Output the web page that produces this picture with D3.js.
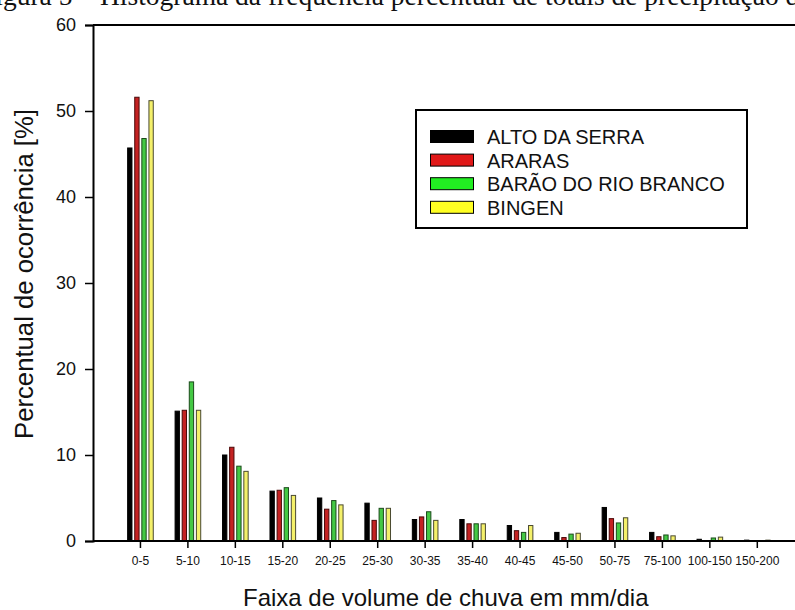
<!DOCTYPE html>
<html>
<head>
<meta charset="utf-8">
<script src="https://cdn.jsdelivr.net/npm/d3@7"></script>
<style>
  html, body { margin: 0; padding: 0; background: #fff; }
  svg { display: block; }
  text { font-family: "Liberation Sans", Arial, sans-serif; fill: #111; }
</style>
</head>
<body>
<svg id="chart" width="795" height="610"></svg>
<script>
const categories = ["0-5","5-10","10-15","15-20","20-25","25-30","30-35","35-40","40-45","45-50","50-75","75-100","100-150","150-200"];
const seriesNames = ["ALTO DA SERRA","ARARAS","BARÃO DO RIO BRANCO","BINGEN"];
const altoDaSerra    = [45.7, 15.1, 10.0, 5.8, 5.0, 4.4, 2.5, 2.5, 1.8, 1.0, 3.9, 1.0, 0.2, 0.1];
const araras         = [51.6, 15.2, 10.9, 5.9, 3.7, 2.4, 2.8, 2.0, 1.2, 0.4, 2.6, 0.5, 0.05, 0.0];
const baraoRioBranco = [46.8, 18.5, 8.7, 6.2, 4.7, 3.8, 3.4, 2.0, 1.0, 0.8, 2.1, 0.7, 0.35, 0.0];
const bingen         = [51.2, 15.2, 8.1, 5.3, 4.2, 3.8, 2.4, 2.0, 1.8, 0.9, 2.7, 0.6, 0.45, 0.1];
const yTicks = [0, 10, 20, 30, 40, 50, 60];
const titleText = "Figura 5 – Histograma da frequência percentual de totais de precipitação diária";
const xTitle = "Faixa de volume de chuva em mm/dia";
const yTitle = "Percentual de ocorrência [%]";

const seriesValues = [altoDaSerra, araras, baraoRioBranco, bingen];
const barFill   = ["#000000", "#c42222", "#44c844", "#f4f06a"];
const barStroke = ["#000000", "#4a0808", "#1b4a1b", "#4a4a30"];
const legendFill = ["#000000", "#e01818", "#22ee22", "#ffff22"];

const svg = d3.select("#chart");
const mLeft = 93, mTop = 25, mBottom = 541, mRight = 800;
const step = 47.45;

const y = d3.scaleLinear().domain([0, 60]).range([mBottom, mTop]);
const x = d3.scaleBand().domain(categories)
  .range([mLeft + step * 0.5, mLeft + step * 14.5]).padding(0);
const x1 = d3.scaleBand().domain(seriesNames)
  .range([-14.2, 14.2]).paddingInner(0.25).paddingOuter(0.125);

// caption of the figure, cropped at the top edge as in the source image
svg.append("text")
  .attr("x", -20).attr("y", 4.5)
  .style("font-family", "'Liberation Serif', 'Times New Roman', serif")
  .style("font-size", "27.5px")
  .text(titleText);

// bars
const groups = svg.append("g").selectAll("g")
  .data(categories).join("g")
  .attr("transform", d => `translate(${x(d) + x.bandwidth() / 2},0)`);

groups.selectAll("rect")
  .data((d, i) => seriesNames.map((s, k) => ({ s, k, v: seriesValues[k][i] })))
  .join("rect")
  .attr("x", d => x1(d.s) + 0.5)
  .attr("width", x1.bandwidth() - 1)
  .attr("y", d => y(d.v))
  .attr("height", d => Math.max(0, y(0) - y(d.v)))
  .attr("fill", d => barFill[d.k])
  .attr("stroke", d => barStroke[d.k])
  .attr("stroke-width", 1);

// y axis
const yAxis = svg.append("g")
  .attr("transform", `translate(${mLeft},0)`)
  .call(d3.axisLeft(y).tickValues(yTicks).tickSize(8).tickPadding(9).tickFormat(d3.format("d")));
yAxis.select(".domain").attr("stroke", "#000").attr("stroke-width", 2);
yAxis.selectAll(".tick line").attr("stroke", "#000").attr("stroke-width", 1.5);
yAxis.selectAll(".tick text").style("font-size", "18px").style("font-family", "'Liberation Sans', Arial, sans-serif").attr("fill", "#111");

// x axis
const xAxis = svg.append("g")
  .attr("transform", `translate(0,${mBottom})`)
  .call(d3.axisBottom(x).tickSize(7).tickPadding(8));
xAxis.select(".domain").remove();
xAxis.selectAll(".tick line").attr("stroke", "#000").attr("stroke-width", 1.5);
xAxis.selectAll(".tick text").style("font-size", "12px").style("font-family", "'Liberation Sans', Arial, sans-serif").attr("fill", "#222");

// frame lines (bottom and top)
svg.append("line").attr("x1", mLeft).attr("x2", mRight).attr("y1", mBottom).attr("y2", mBottom)
  .attr("stroke", "#000").attr("stroke-width", 2);
svg.append("line").attr("x1", mLeft).attr("x2", mRight).attr("y1", mTop).attr("y2", mTop)
  .attr("stroke", "#000").attr("stroke-width", 2);

// axis titles
svg.append("text")
  .attr("x", 243).attr("y", 606)
  .style("font-size", "24px")
  .text(xTitle);
svg.append("text")
  .attr("transform", "translate(33,274) rotate(-90)")
  .attr("x", -165)
  .attr("textLength", 330).attr("lengthAdjust", "spacingAndGlyphs")
  .style("font-size", "25px")
  .text(yTitle);

// legend
const lg = svg.append("g");
lg.append("rect").attr("x", 416).attr("y", 110).attr("width", 331).attr("height", 118)
  .attr("fill", "#fff").attr("stroke", "#000").attr("stroke-width", 2);
const items = lg.selectAll("g.item").data(seriesNames).join("g")
  .attr("class", "item")
  .attr("transform", (d, i) => `translate(0,${130.5 + i * 23.6})`);
items.append("rect").attr("x", 430.5).attr("y", 0).attr("width", 43).attr("height", 12)
  .attr("fill", (d, i) => legendFill[i]).attr("stroke", "#000").attr("stroke-width", 1);
items.append("text").attr("x", 487).attr("y", 13.5)
  .style("font-size", "20px")
  .text(d => d);
</script>
</body>
</html>
